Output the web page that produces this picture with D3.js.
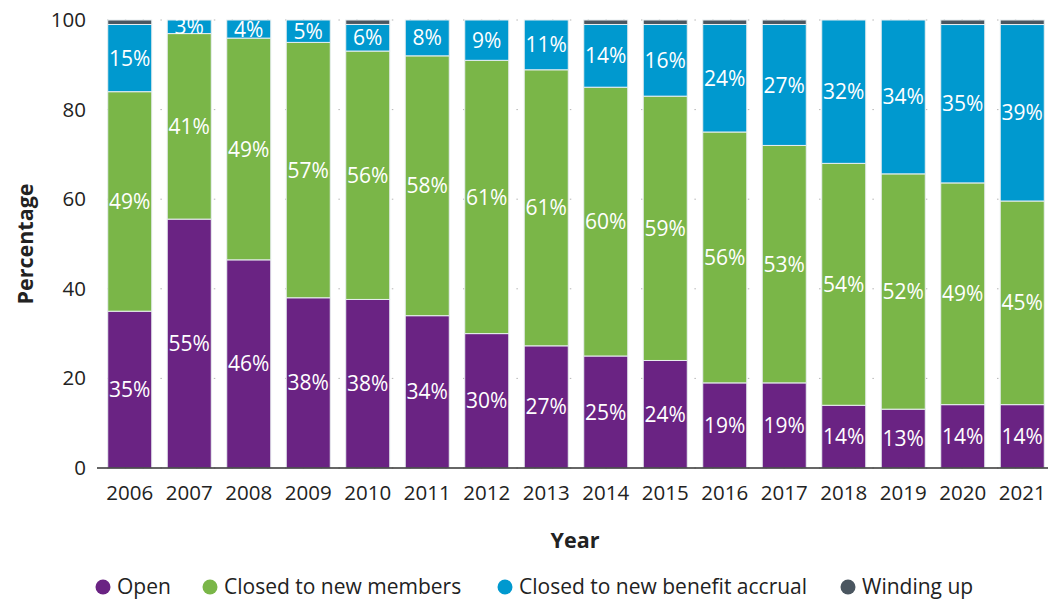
<!DOCTYPE html>
<html>
<head>
<meta charset="utf-8">
<script src="https://cdn.jsdelivr.net/npm/d3@7"></script>
<style>
  body { margin: 0; background: #fff; }
  svg { font-family: "Open Sans", sans-serif; }
</style>
</head>
<body>
<svg id="chart"></svg>
<script>
const years = ["2006","2007","2008","2009","2010","2011","2012","2013","2014","2015","2016","2017","2018","2019","2020","2021"]
const open = [35, 55, 46, 38, 38, 34, 30, 27, 25, 24, 19, 19, 14, 13, 14, 14]
const closedMembers = [49, 41, 49, 57, 56, 58, 61, 61, 60, 59, 56, 53, 54, 52, 49, 45]
const closedAccrual = [15, 3, 4, 5, 6, 8, 9, 11, 14, 16, 24, 27, 32, 34, 35, 39]
const windingUp = [1, 0, 0, 0, 1, 0, 0, 0, 1, 1, 1, 1, 0, 0, 1, 1]
const yTicks = [0, 20, 40, 60, 80, 100]

const seriesNames = ["Open", "Closed to new members", "Closed to new benefit accrual", "Winding up"]
const keys = ["open", "closedMembers", "closedAccrual", "windingUp"]
const colors = ["#6a2383", "#7ab648", "#0099cf", "#4a5660"]

const w = 1048
const h = 599
const margin = { top: 20, right: 0, bottom: 131, left: 97 }

const rows = years.map((y, i) => ({
  year: y,
  open: open[i],
  closedMembers: closedMembers[i],
  closedAccrual: closedAccrual[i],
  windingUp: windingUp[i]
}))

// labels are rounded, so each bar is scaled to fill 100
const stacked = d3.stack().keys(keys).offset(d3.stackOffsetExpand)(rows)

const svg = d3.select("#chart").attr("width", w).attr("height", h)

const x = d3.scaleBand()
  .domain(years)
  .range([100, 1052])
  .paddingInner(0.26)
  .paddingOuter(0.13)

const y = d3.scaleLinear()
  .domain([0, 1])
  .range([h - margin.bottom, margin.top])

// dotted gridlines
svg.append("g")
  .selectAll("line")
  .data(yTicks)
  .enter()
  .append("line")
  .attr("x1", margin.left + 10)
  .attr("x2", w)
  .attr("y1", d => y(d / 100))
  .attr("y2", d => y(d / 100))
  .attr("stroke", "#b5b5b5")
  .attr("stroke-width", 1)
  .attr("stroke-dasharray", "1.5,16.3")

const layers = svg.append("g")
  .selectAll("g")
  .data(stacked)
  .enter()
  .append("g")
  .attr("fill", (d, i) => colors[i])

layers.selectAll("rect")
  .data(d => d)
  .enter()
  .append("rect")
  .attr("x", d => x(d.data.year))
  .attr("width", x.bandwidth())
  .attr("y", d => y(d[1]))
  .attr("height", d => Math.max(0, y(d[0]) - y(d[1])))
  .attr("stroke", "#e8eef0")
  .attr("stroke-width", 1)

// value labels on the first three series
stacked.slice(0, 3).forEach((s, si) => {
  svg.append("g")
    .selectAll("text")
    .data(s)
    .enter()
    .append("text")
    .attr("x", d => x(d.data.year) + x.bandwidth() / 2)
    .attr("y", d => (y(d[0]) + y(d[1])) / 2)
    .attr("dy", "0.36em")
    .attr("text-anchor", "middle")
    .attr("fill", "#fff")
    .attr("font-size", 21)
    .text(d => d.data[keys[si]] + "%")
})

const xAxis = d3.axisBottom(x).tickSize(0).tickPadding(17)
const yAxis = d3.axisLeft(y)
  .tickValues(yTicks.map(t => t / 100))
  .tickFormat(d => Math.round(d * 100))
  .tickSize(0)
  .tickPadding(11)

const gx = svg.append("g")
  .attr("transform", `translate(0, ${h - margin.bottom})`)
  .call(xAxis)
gx.select(".domain").attr("stroke", "#333").attr("stroke-width", 1.5)
  .attr("d", `M${margin.left},0H${w}`)
gx.selectAll("text").attr("font-size", 20.5).attr("fill", "#222").attr("font-family", "Open Sans")

const gy = svg.append("g")
  .attr("transform", `translate(${margin.left}, 0)`)
  .call(yAxis)
gy.select(".domain").remove()
gy.selectAll("text").attr("font-size", 20.5).attr("fill", "#222").attr("font-family", "Open Sans")

svg.append("text")
  .attr("x", 575)
  .attr("y", 548)
  .attr("text-anchor", "middle")
  .attr("font-size", 21.5)
  .attr("font-weight", "bold")
  .attr("fill", "#222")
  .text("Year")

svg.append("text")
  .attr("transform", `translate(33, ${y(0.5)}) rotate(-90)`)
  .attr("text-anchor", "middle")
  .attr("font-size", 21.5)
  .attr("font-weight", "bold")
  .attr("fill", "#222")
  .text("Percentage")

// legend
const legendX = [103, 210, 505, 848]
const legend = svg.append("g")
  .selectAll("g")
  .data(seriesNames)
  .enter()
  .append("g")
  .attr("transform", (d, i) => `translate(${legendX[i]}, 587)`)

legend.append("circle")
  .attr("r", 7.5)
  .attr("fill", (d, i) => colors[i])

legend.append("text")
  .attr("x", 14)
  .attr("dy", "0.35em")
  .attr("font-size", 21)
  .attr("fill", "#222")
  .text(d => d)
</script>
</body>
</html>
